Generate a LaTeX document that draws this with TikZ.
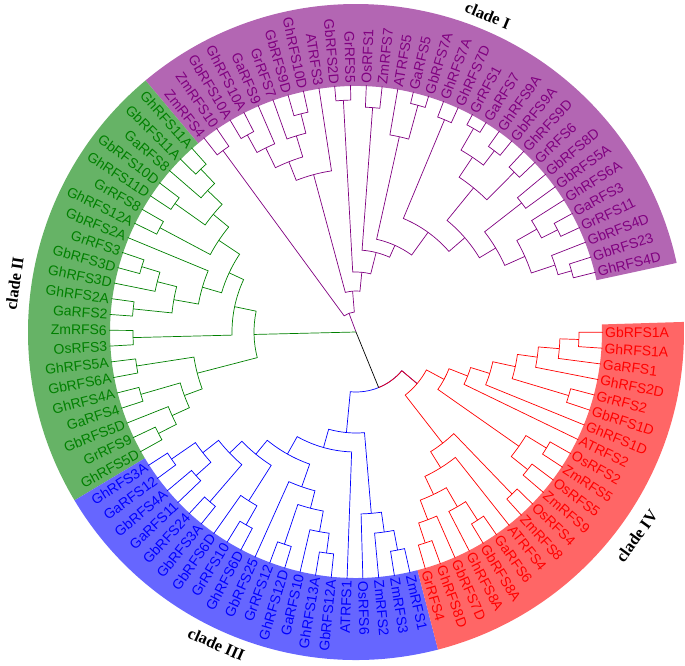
\documentclass[tikz,border=0pt]{standalone}
\usepackage{fontspec}
\setmainfont{Liberation Serif}
\newfontfamily\arial{Liberation Sans}
\definecolor{purp}{RGB}{128,0,128}
\definecolor{grn}{RGB}{0,128,0}
\definecolor{blu}{RGB}{0,0,255}
\definecolor{rd}{RGB}{255,0,0}

% leaf: name, index, colour
\newcommand\leaf[3]{%
  \pgfmathsetmacro\la{14+3.68*#2}%
  \expandafter\xdef\csname ang#1\endcsname{\la}%
  \expandafter\xdef\csname rad#1\endcsname{247}%
  \pgfmathtruncatemacro\lside{(\la>90)&&(\la<270)}%
  \ifnum\lside=1
    \pgfmathsetmacro\lr{\la-180}%
    \node[lab,text=#3,anchor=east,rotate=\lr] (#1) at (\la:249pt) {#1};%
  \else
    \node[lab,text=#3,anchor=west,rotate=\la] (#1) at (\la:249pt) {#1};%
  \fi}
% inner node: name, radius, child, child
\newcommand\nd[4]{%
  \edef\ca{\csname ang#3\endcsname}\edef\cb{\csname ang#4\endcsname}%
  \edef\ra{\csname rad#3\endcsname}\edef\rb{\csname rad#4\endcsname}%
  \draw[br] (\ca:\ra pt) -- (\ca:#2pt) arc[start angle=\ca,end angle=\cb,radius=#2pt] -- (\cb:\rb pt);%
  \pgfmathsetmacro\cm{(\ca+\cb)/2}%
  \expandafter\xdef\csname ang#1\endcsname{\cm}%
  \expandafter\xdef\csname rad#1\endcsname{#2}}
\newcommand\band[3]{%
  \fill[#1!60] (#2:246pt) arc[start angle=#2,end angle=#3,radius=246pt] -- (#3:328pt) arc[start angle=#3,end angle=#2,radius=328pt] -- cycle;}

\begin{document}
\begin{tikzpicture}
\tikzset{lab/.style={font=\arial\fontsize{14}{14}\selectfont,inner sep=0pt},
  clab/.style={font=\bfseries\fontsize{16.5}{17}\selectfont,inner sep=0pt},
  br/.style={line width=0.7pt}}
\useasboundingbox (-356pt,-333pt) rectangle (329pt,332pt);

\band{purp}{12.16}{129.92}
\band{grn}{129.92}{210.88}
\band{blu}{210.88}{284.48}
\band{rd}{284.48}{361.76}

\foreach \n [count=\k from 0] in {GhRFS4D,GbRFS23,GbRFS4D,GrRFS11,GaRFS3,GhRFS6A,GbRFS5A,GbRFS8D,GrRFS6,GhRFS9D,GbRFS9A,GhRFS9A,GaRFS7,GrRFS1,GhRFS7D,GhRFS7A,GbRFS7A,GaRFS5,ATRFS5,ZmRFS7,OsRFS1,GrRFS5,GbRFS2D,ATRFS3,GhRFS10D,GbRFS9D,GrRFS7,GaRFS9,GhRFS10A,GbRFS10A,ZmRFS10,ZmRFS4}
  {\leaf{\n}{\k}{purp}}
\foreach \n [count=\k from 32] in {GhRFS11A,GbRFS11A,GaRFS8,GbRFS10D,GhRFS11D,GrRFS8,GhRFS12A,GbRFS2A,GrRFS3,GbRFS3D,GhRFS3D,GhRFS2A,GaRFS2,ZmRFS6,OsRFS3,GhRFS5A,GbRFS6A,GhRFS4A,GaRFS4,GbRFS5D,GrRFS9,GhRFS5D}
  {\leaf{\n}{\k}{grn}}
\foreach \n [count=\k from 54] in {GhRFS3A,GaRFS12,GbRFS4A,GaRFS11,GbRFS24,GbRFS3A,GbRFS6D,GrRFS10,GhRFS6D,GbRFS25,GrRFS12,GhRFS12D,GaRFS10,GhRFS13A,GbRFS12A,ATRFS1,OsRFS6,ZmRFS2,ZmRFS3,ZmRFS1}
  {\leaf{\n}{\k}{blu}}
\foreach \n [count=\k from 74] in {GrRFS4,GhRFS8D,GbRFS7D,GhRFS8A,GbRFS8A,GaRFS6,ATRFS4,ZmRFS8,OsRFS4,ZmRFS9,OsRFS5,ZmRFS5,OsRFS2,ATRFS2,GhRFS1D,GbRFS1D,GrRFS2,GhRFS2D,GaRFS1,GhRFS1A,GbRFS1A}
  {\leaf{\n}{\k}{rd}}

\begin{scope}[purp]
\nd{a1}{224}{GhRFS4D}{GbRFS23}
\nd{a2}{210}{a1}{GbRFS4D}
\nd{a3}{226}{GrRFS11}{GaRFS3}
\nd{a4}{208}{a3}{GhRFS6A}
\nd{a5}{185}{a2}{a4}
\nd{a6}{210}{GbRFS5A}{GbRFS8D}
\nd{a7}{163}{a5}{a6}
\nd{a8}{225}{GrRFS6}{GhRFS9D}
\nd{a9}{228}{GbRFS9A}{GhRFS9A}
\nd{a10}{235}{GaRFS7}{GrRFS1}
\nd{a11}{210}{a9}{a10}
\nd{a12}{186}{a8}{a11}
\nd{a13}{144}{a7}{a12}
\nd{a14}{230}{GhRFS7D}{GhRFS7A}
\nd{a15}{123}{a13}{a14}
\nd{a16}{235}{GbRFS7A}{GaRFS5}
\nd{a17}{200}{a16}{ATRFS5}
\nd{a18}{95}{a15}{a17}
\nd{a19}{225}{ZmRFS7}{OsRFS1}
\nd{a20}{82}{a18}{a19}
\nd{a21}{232}{GrRFS5}{GbRFS2D}
\nd{a22}{60}{a20}{a21}
\nd{a23}{225}{GhRFS10D}{GbRFS9D}
\nd{a24}{205}{a23}{GrRFS7}
\nd{a25}{225}{GhRFS10A}{GbRFS10A}
\nd{a26}{205}{GaRFS9}{a25}
\nd{a27}{183}{a24}{a26}
\nd{a28}{163}{ATRFS3}{a27}
\nd{a29}{41}{a22}{a28}
\nd{a30}{225}{ZmRFS10}{ZmRFS4}
\nd{a31}{20}{a29}{a30}
\end{scope}

\begin{scope}[grn]
\nd{b1}{225}{GhRFS11A}{GbRFS11A}
\nd{b2}{205}{b1}{GaRFS8}
\nd{b3}{222}{GbRFS10D}{GhRFS11D}
\nd{b4}{185}{b2}{b3}
\nd{b5}{222}{GrRFS8}{GhRFS12A}
\nd{b6}{165}{b4}{b5}
\nd{b7}{224}{GrRFS3}{GbRFS3D}
\nd{b8}{205}{b7}{GhRFS3D}
\nd{b9}{224}{GhRFS2A}{GaRFS2}
\nd{b10}{185}{b8}{b9}
\nd{b11}{160}{GbRFS2A}{b10}
\nd{b12}{140}{b6}{b11}
\nd{b13}{223}{ZmRFS6}{OsRFS3}
\nd{b14}{124}{b12}{b13}
\nd{b15}{222}{GhRFS5A}{GbRFS6A}
\nd{b16}{224}{GhRFS4A}{GaRFS4}
\nd{b17}{222}{GrRFS9}{GhRFS5D}
\nd{b18}{202}{GbRFS5D}{b17}
\nd{b19}{183}{b16}{b18}
\nd{b20}{164}{b15}{b19}
\nd{b21}{102}{b14}{b20}
\end{scope}

\begin{scope}[blu]
\nd{c1}{224}{GhRFS3A}{GaRFS12}
\nd{c2}{215}{GbRFS4A}{GaRFS11}
\nd{c3}{195}{c1}{c2}
\nd{c4}{224}{GbRFS24}{GbRFS3A}
\nd{c5}{175}{c3}{c4}
\nd{c6}{222}{GrRFS10}{GhRFS6D}
\nd{c7}{200}{GbRFS6D}{c6}
\nd{c8}{158}{c5}{c7}
\nd{c9}{224}{GrRFS12}{GhRFS12D}
\nd{c10}{223}{GhRFS13A}{GbRFS12A}
\nd{c11}{203}{GaRFS10}{c10}
\nd{c12}{182}{c9}{c11}
\nd{c13}{164}{GbRFS25}{c12}
\nd{c14}{140}{c8}{c13}
\nd{c15}{120}{c14}{ATRFS1}
\nd{c16}{222}{ZmRFS3}{ZmRFS1}
\nd{c17}{202}{ZmRFS2}{c16}
\nd{c18}{182}{OsRFS6}{c17}
\nd{c19}{101}{c15}{c18}
\end{scope}

\begin{scope}[rd]
\nd{d1}{222}{GrRFS4}{GhRFS8D}
\nd{d2}{201}{d1}{GbRFS7D}
\nd{d3}{224}{GbRFS8A}{GaRFS6}
\nd{d4}{202}{GhRFS8A}{d3}
\nd{d5}{180}{d2}{d4}
\nd{d6}{160}{d5}{ATRFS4}
\nd{d7}{225}{ZmRFS8}{OsRFS4}
\nd{d8}{141}{d6}{d7}
\nd{d9}{220}{ZmRFS9}{OsRFS5}
\nd{d10}{223}{ZmRFS5}{OsRFS2}
\nd{d11}{199}{d9}{d10}
\nd{d13}{223}{GhRFS1A}{GbRFS1A}
\nd{d14}{204}{GaRFS1}{d13}
\nd{d15}{183}{GhRFS2D}{d14}
\nd{d16}{222}{GbRFS1D}{GrRFS2}
\nd{d17}{163}{d16}{d15}
\nd{d18}{140}{GhRFS1D}{d17}
\nd{d19}{120}{ATRFS2}{d18}
\nd{d20}{100}{d11}{d19}
\nd{d21}{80}{d8}{d20}
\end{scope}

\begin{scope}[blu]
\nd{s}{60}{c19}{d21}
\end{scope}
\edef\sm{\csname angs\endcsname}\edef\dr{\csname angd21\endcsname}
\draw[br,rd] (\sm:60pt) arc[start angle=\sm,end angle=\dr,radius=60pt] -- (\dr:80pt);
\edef\pa{\csname anga31\endcsname}\edef\ga{\csname angb21\endcsname}
\draw[br] (0,0) -- (\sm:60pt);
\draw[br,purp] (0,0) -- (\pa:20pt);
\draw[br,grn] (0,0) -- (\ga:102pt);

\node[clab,rotate=-22.6] (cI) at (67.4:343pt) {clade I};
\node[clab,rotate=81.9] (cII) at (171.9:345pt) {clade II};
\node[clab,rotate=-24.1] (cIII) at (245.9:342pt) {clade III};
\node[clab,rotate=54] (cIV) at (-36:347pt) {clade IV};
\end{tikzpicture}
\end{document}
